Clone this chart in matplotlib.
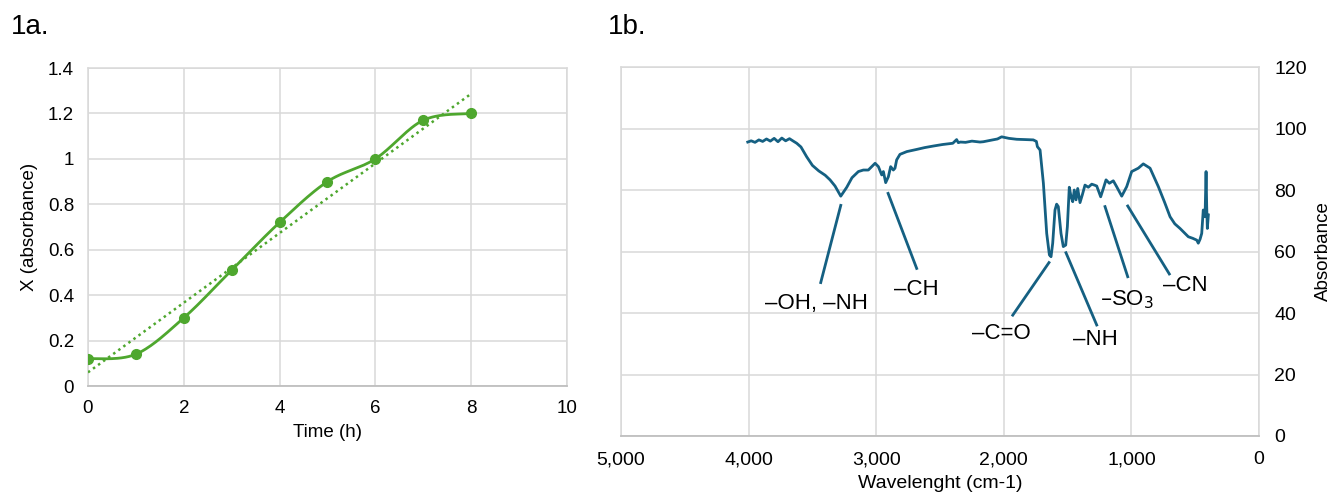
import numpy as np
import matplotlib
matplotlib.use("Agg")
import matplotlib.pyplot as plt
from matplotlib.ticker import FuncFormatter

plt.rcParams['font.family'] = ['Liberation Sans', 'DejaVu Sans']

# --- 1a data: growth curve
time_h = [0, 1, 2, 3, 4, 5, 6, 7, 8]
absorb = [0.12, 0.14, 0.30, 0.51, 0.72, 0.90, 1.00, 1.17, 1.20]

# --- 1b data: FTIR spectrum
wavenum = [4007, 3980, 3950, 3920, 3890, 3860, 3830, 3800, 3770, 3740, 3710,
           3680, 3650, 3623, 3590, 3545, 3500, 3450, 3400, 3362, 3323, 3278,
           3231, 3190, 3140, 3101, 3062, 3009, 2983, 2957, 2944, 2926, 2905,
           2887, 2866, 2853, 2840, 2814, 2760, 2683, 2620, 2553, 2480, 2400,
           2370, 2357, 2340, 2300, 2250, 2187, 2161, 2100, 2050, 2017, 1960,
           1899, 1830, 1769, 1745, 1737, 1716, 1690, 1664, 1643, 1630, 1617,
           1599, 1586, 1573, 1552, 1534, 1515, 1502, 1487, 1473, 1460, 1448,
           1434, 1421, 1403, 1385, 1364, 1338, 1311, 1290, 1272, 1241, 1220,
           1199, 1173, 1142, 1116, 1076, 1037, 998, 946, 907, 854, 789, 740,
           697, 660, 619, 554, 520, 488, 476, 462, 449, 437, 423, 415, 410,
           405, 397]
transm = [95.6, 96.0, 95.5, 96.3, 95.8, 96.6, 95.9, 96.8, 95.7, 96.9, 96.0,
          96.7, 95.9, 95.2, 94.0, 90.8, 88.0, 86.2, 84.8, 83.3, 81.3, 78.0,
          80.9, 84.0, 86.0, 86.5, 86.5, 88.7, 87.6, 84.9, 86.0, 82.4, 84.3,
          87.6, 86.5, 87.1, 89.8, 91.6, 92.5, 93.2, 93.8, 94.3, 94.8, 95.2,
          96.4, 95.4, 95.6, 95.5, 95.9, 95.6, 95.7, 96.2, 96.6, 97.3, 96.8,
          96.5, 96.4, 96.3, 95.8, 94.1, 93.0, 82.2, 65.9, 58.9, 58.3, 62.7,
          73.5, 75.4, 74.6, 65.9, 61.6, 62.1, 68.1, 80.9, 77.8, 76.2, 80.0,
          76.8, 80.5, 75.9, 78.4, 81.6, 80.9, 81.9, 81.6, 81.3, 77.8, 80.5,
          83.3, 82.2, 83.0, 81.1, 78.0, 81.1, 86.0, 87.1, 88.5, 87.1, 81.1,
          76.0, 71.3, 69.0, 67.5, 64.8, 64.3, 63.7, 62.7, 64.0, 65.9, 73.5,
          71.3, 86.0, 74.6, 67.5, 71.9]

# peak labels: text, text position, line start (near peak), line end
peak_labels = ['\u2013OH, \u2013NH', '\u2013CH', '\u2013C=O', '\u2013NH',
               '\u2013SO$_3$', '\u2013CN']
label_xy = [(3467, 43.2), (2688, 47.7), (2016, 33.4), (1280, 31.4),
            (1037, 44.4), (580, 49.1)]
line_from = [(3278, 75.0), (2907, 78.9), (1646, 56.4), (1513, 59.6),
             (1207, 74.6), (1029, 74.8)]
line_to = [(3435, 49.9), (2683, 54.5), (1930, 39.3), (1272, 36.1),
           (1029, 51.8), (703, 52.7)]

green = '#4EA72E'
blue = '#156082'
grid_c = '#D9D9D9'
axis_c = '#BFBFBF'


def smooth(x, y, n=30):
    # excel style smoothed line (catmull-rom as bezier)
    pts = np.column_stack([x, y]).astype(float)
    out = []
    for i in range(len(pts) - 1):
        p0 = pts[max(i - 1, 0)]
        p1 = pts[i]
        p2 = pts[i + 1]
        p3 = pts[min(i + 2, len(pts) - 1)]
        c1 = p1 + (p2 - p0) / 6
        c2 = p2 - (p3 - p1) / 6
        t = np.linspace(0, 1, n)[:, None]
        seg = ((1 - t) ** 3 * p1 + 3 * (1 - t) ** 2 * t * c1
               + 3 * (1 - t) * t ** 2 * c2 + t ** 3 * p2)
        out.append(seg)
    out = np.vstack(out)
    return out[:, 0], out[:, 1]


fig = plt.figure(figsize=(13.33, 4.95), dpi=100)

# ---------- 1a
ax1 = fig.add_axes([0.066, 0.2202, 0.3593, 0.6424])
sx, sy = smooth(time_h, absorb)
ax1.plot(sx, sy, color=green, lw=2.0, zorder=3)
ax1.plot(time_h, absorb, 'o', color=green, ms=7, zorder=4)
k, b = np.polyfit(time_h, absorb, 1)
tt = np.array([time_h[0], time_h[-1]])
ax1.plot(tt, k * tt + b, color=green, lw=1.8, ls=(0, (1, 1.5)), zorder=3)
ax1.set_xlim(0, 10)
ax1.set_ylim(0, 1.4)
ax1.set_xticks(np.arange(0, 11, 2))
ax1.set_yticks(np.arange(0, 1.41, 0.2))
ax1.yaxis.set_major_formatter(FuncFormatter(lambda v, p: f'{v:g}'))
ax1.grid(True, color=grid_c, lw=1.1)
ax1.set_axisbelow(True)
for s in ['top', 'right', 'left']:
    ax1.spines[s].set_color(grid_c)
    ax1.spines[s].set_linewidth(1.1)
ax1.spines['bottom'].set_color(axis_c)
ax1.spines['bottom'].set_linewidth(1.3)
ax1.tick_params(length=0, labelsize=13.5, pad=10)
ax1.set_xlabel('Time (h)', fontsize=13.5, labelpad=5)
ax1.set_ylabel('X (absorbance)', fontsize=13.5, labelpad=7)
fig.text(0.008, 0.945, '1a.', fontsize=20, va='center')

# ---------- 1b
ax2 = fig.add_axes([0.4659, 0.1192, 0.4786, 0.7454])
ax2.plot(wavenum, transm, color=blue, lw=2.0, zorder=3)
ax2.set_xlim(5000, 0)
ax2.set_ylim(0, 120)
ax2.set_xticks(np.arange(0, 5001, 1000))
ax2.set_yticks(np.arange(0, 121, 20))
ax2.xaxis.set_major_formatter(FuncFormatter(lambda v, p: f'{int(v):,}'))
ax2.yaxis.tick_right()
ax2.yaxis.set_label_position('right')
ax2.grid(True, color=grid_c, lw=1.1)
ax2.set_axisbelow(True)
for s in ['top', 'right', 'left']:
    ax2.spines[s].set_color(grid_c)
    ax2.spines[s].set_linewidth(1.1)
ax2.spines['bottom'].set_color(axis_c)
ax2.spines['bottom'].set_linewidth(1.3)
ax2.tick_params(length=0, labelsize=14, pad=11)
ax2.set_xlabel('Wavelenght (cm-1)', fontsize=14, labelpad=5)
ax2.set_ylabel('Absorbance', fontsize=13.5, labelpad=6)

for txt, (tx, ty), (x0, y0), (x1, y1) in zip(peak_labels, label_xy,
                                              line_from, line_to):
    ax2.plot([x0, x1], [y0, y1], color=blue, lw=2.0, zorder=3)
    ax2.text(tx, ty, txt, fontsize=16, ha='center', va='center', zorder=4)

fig.text(0.456, 0.945, '1b.', fontsize=20, va='center')

fig.savefig('out.png', dpi=100)
